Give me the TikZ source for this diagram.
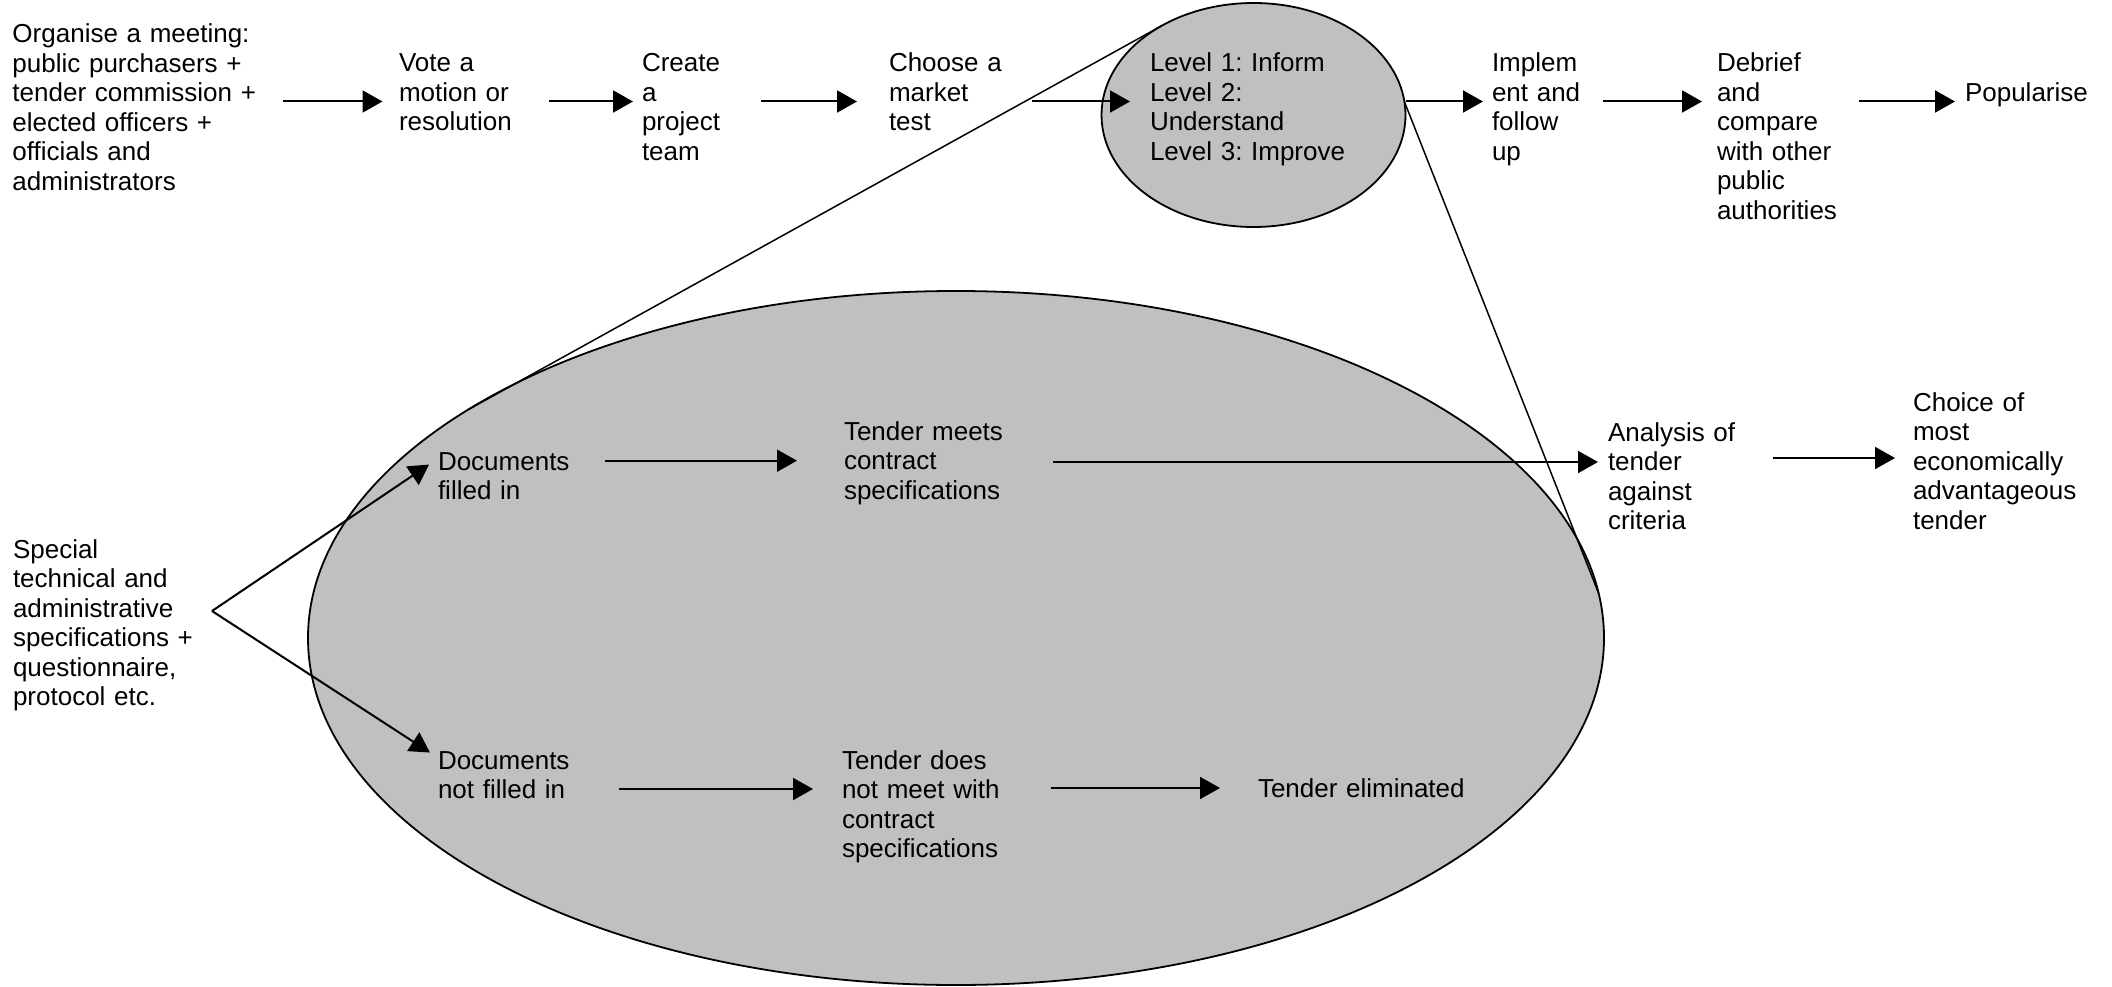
\documentclass[tikz,border=0pt]{standalone}
\usepackage{fontspec}
\setmainfont{Liberation Sans}
\usetikzlibrary{arrows.meta,shapes.geometric}
\definecolor{ovalgray}{RGB}{192,192,192}
\frenchspacing
\begin{document}
\begin{tikzpicture}[x=1pt,y=-1pt,
  txt/.style={anchor=north west, inner sep=0pt, outer sep=0pt, align=left,
    font=\fontsize{26pt}{29.5pt}\selectfont, execute at begin node=\strut},
  arr/.style={line width=2pt, -{Triangle[length=20pt,width=22pt]}},
  zoomline/.style={line width=1.5pt},
  oval/.style={ellipse, draw, line width=1.8pt, fill=ovalgray, inner sep=0pt, outer sep=0pt}]
\useasboundingbox (0,0) rectangle (2112,987);
\fill[white] (0,0) rectangle (2112,987);

% ellipses
\node[oval, minimum width=1296pt, minimum height=694pt] (big) at (956,638) {};
\node[oval, minimum width=304pt, minimum height=224pt] (small) at (1253.5,115) {};

% top row
\node[txt, text width=255pt] (org) at (12.5,22.35) {Organise a meeting:\\public purchasers +\\tender commission +\\elected officers +\\officials and\\administrators};
\node[txt, text width=125pt] (vote) at (399,51.35) {Vote a\\motion or\\resolution};
\node[txt, text width=90pt] (create) at (642,51.35) {Create\\a\\project\\team};
\node[txt, text width=118pt] (choose) at (889,51.35) {Choose a\\market\\test};
\node[txt, text width=200pt] (levels) at (1150,51.35) {Level 1: Inform\\Level 2:\\Understand\\Level 3: Improve};
\node[txt, text width=95pt] (implem) at (1492,51.35) {Implem\\ent and\\follow\\up};
\node[txt, text width=130pt] (debrief) at (1717,51.35) {Debrief\\and\\compare\\with other\\public\\authorities};
\node[txt, text width=130pt] (popularise) at (1965,81.35) {Popularise};

% lower part
\node[txt, text width=190pt] (special) at (13,537.35) {Special\\technical and\\administrative\\specifications +\\questionnaire,\\protocol etc.};
\node[txt, text width=140pt] (docfilled) at (438,449.35) {Documents\\filled in};
\node[txt, text width=170pt] (meets) at (844,419.35) {Tender meets\\contract\\specifications};
\node[txt, text width=140pt] (analysis) at (1608,420.35) {Analysis of\\tender\\against\\criteria};
\node[txt, text width=180pt] (choice) at (1913,390.35) {Choice of\\most\\economically\\advantageous\\tender};
\node[txt, text width=140pt] (docnot) at (438,748.35) {Documents\\not filled in};
\node[txt, text width=170pt] (doesnot) at (842,748.35) {Tender does\\not meet with\\contract\\specifications};
\node[txt, text width=230pt] (eliminated) at (1258,776.35) {Tender eliminated};

\coordinate (fork) at (212,611);

% top row arrows
\draw[arr, shorten <=15.5pt, shorten >=16.5pt] (org.east |- 0,101.5) -- (vote.west |- 0,101.5);
\draw[arr, shorten <=25pt, shorten >=9pt] (vote.east |- 0,101.5) -- (create.west |- 0,101.5);
\draw[arr, shorten <=29pt, shorten >=32pt] (create.east |- 0,101.5) -- (choose.west |- 0,101.5);
\draw[arr, shorten <=25pt, shorten >=20pt] (choose.east |- 0,101.5) -- (levels.west |- 0,101.5);
\draw[arr, shorten >=9pt] (small.east |- 0,101.5) -- (implem.west |- 0,101.5);
\draw[arr, shorten <=16pt, shorten >=15pt] (implem.east |- 0,101.5) -- (debrief.west |- 0,101.5);
\draw[arr, shorten <=12pt, shorten >=10pt] (debrief.east |- 0,101.5) -- (popularise.west |- 0,101.5);

% lower arrows
\draw[arr] (fork) -- ([shift={(-9pt,10pt)}]docfilled.west);
\draw[arr] (fork) -- ([shift={(-8pt,21pt)}]docnot.west);
\draw[arr, shorten <=27pt, shorten >=47pt] (docfilled.east |- 0,460.7) -- (meets.west |- 0,460.7);
\draw[arr, shorten <=39pt, shorten >=10pt] (meets.east |- 0,462) -- (analysis.west |- 0,462);
\draw[arr, shorten <=25pt, shorten >=18pt] (analysis.east |- 0,458) -- (choice.west |- 0,458);
\draw[arr, shorten <=41pt, shorten >=29pt] (docnot.east |- 0,789) -- (doesnot.west |- 0,789);
\draw[arr, shorten <=39pt, shorten >=38pt] (doesnot.east |- 0,788) -- (eliminated.west |- 0,788);

% zoom lines
\draw[zoomline] (small.136.1) -- (big.155.7);
\draw[zoomline] (small.5.4) -- (big.4.94);
\end{tikzpicture}
\end{document}
